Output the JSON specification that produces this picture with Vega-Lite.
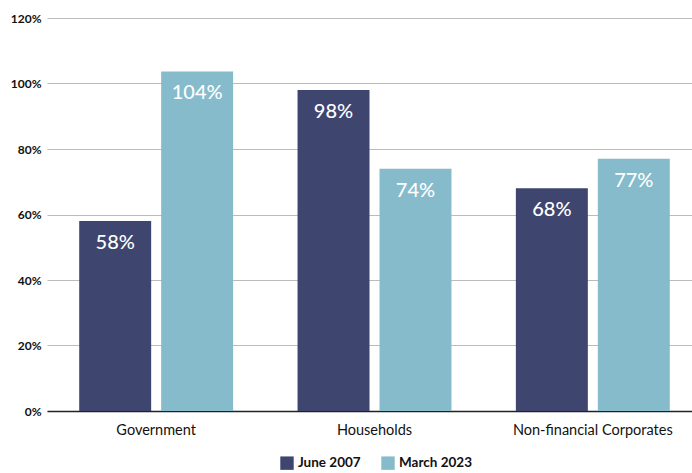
{
  "$schema": "https://vega.github.io/schema/vega-lite/v6.json",
  "width": 655,
  "height": 393,
  "autosize": "none",
  "padding": {"left": 47, "top": 18, "right": 0, "bottom": 62},
  "config": {
    "view": {"stroke": null},
    "font": "Lato"
  },
  "data": {
    "values": [
      {"sector": "Government", "period": "June 2007", "share": 0.58},
      {"sector": "Government", "period": "March 2023", "share": 1.037},
      {"sector": "Households", "period": "June 2007", "share": 0.98},
      {"sector": "Households", "period": "March 2023", "share": 0.74},
      {"sector": "Non-financial Corporates", "period": "June 2007", "share": 0.68},
      {"sector": "Non-financial Corporates", "period": "March 2023", "share": 0.77}
    ]
  },
  "encoding": {
    "x": {
      "field": "sector",
      "type": "nominal",
      "title": null,
      "sort": null,
      "scale": {"paddingInner": 0, "paddingOuter": 0},
      "axis": {
        "labelAngle": 0,
        "labelFontSize": 14.5,
        "labelColor": "#111",
        "labelPadding": 12,
        "ticks": false,
        "domainColor": "#222",
        "domainWidth": 1.5
      }
    },
    "xOffset": {
      "field": "period",
      "type": "nominal",
      "scale": {"paddingInner": 0.122, "paddingOuter": 0.393}
    },
    "y": {
      "field": "share",
      "type": "quantitative",
      "title": null,
      "scale": {"domain": [0, 1.2]},
      "axis": {
        "values": [0, 0.2, 0.4, 0.6, 0.8, 1.0, 1.2],
        "format": ".0%",
        "domain": false,
        "ticks": false,
        "labelFontSize": 12,
        "labelFontWeight": "bold",
        "labelColor": "#111",
        "labelPadding": 6,
        "gridColor": "#bbbbbb",
        "gridWidth": 1
      }
    }
  },
  "layer": [
    {
      "mark": {"type": "bar"},
      "encoding": {
        "color": {
          "field": "period",
          "type": "nominal",
          "title": null,
          "scale": {"domain": ["June 2007", "March 2023"], "range": ["#3e456f", "#85bbcb"]},
          "legend": {
            "orient": "none",
            "legendX": 233,
            "legendY": 438,
            "direction": "horizontal",
            "symbolType": "square",
            "symbolSize": 180,
            "symbolStrokeWidth": 0,
            "labelFontSize": 13.5,
            "labelFontWeight": "bold",
            "labelColor": "#111",
            "columnPadding": 20
          }
        }
      }
    },
    {
      "mark": {"type": "text", "color": "white", "fontSize": 20, "fontWeight": 500, "baseline": "middle", "dy": 22},
      "encoding": {
        "text": {"field": "share", "type": "quantitative", "format": ".0%"}
      }
    }
  ]
}
